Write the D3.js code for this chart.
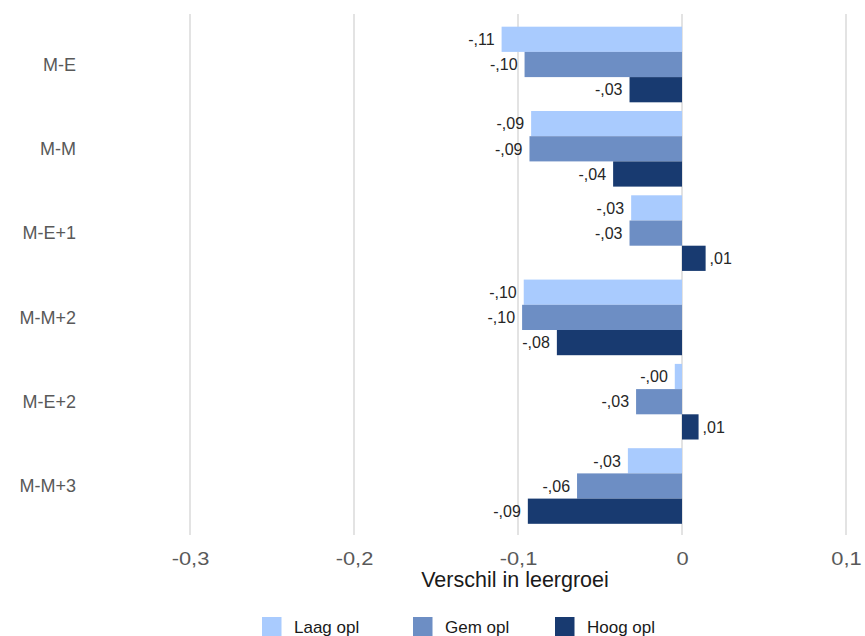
<!DOCTYPE html>
<html>
<head>
<meta charset="utf-8">
<script src="https://cdn.jsdelivr.net/npm/d3@7"></script>
<style>
  html, body { margin: 0; padding: 0; background: #fff; }
  svg { display: block; font-family: "Liberation Sans", Arial, sans-serif; }
</style>
</head>
<body>
<svg id="chart" width="865" height="636"></svg>
<script>
const categories = ["M-E", "M-M", "M-E+1", "M-M+2", "M-E+2", "M-M+3"];
const seriesNames = ["Laag opl", "Gem opl", "Hoog opl"];
const laagValues = [-0.110, -0.092, -0.031, -0.0965, -0.0044, -0.033];
const gemValues  = [-0.096, -0.093, -0.032, -0.0975, -0.028, -0.064];
const hoogValues = [-0.032, -0.042, 0.0144, -0.0763, 0.0101, -0.094];
const xTicks = [-0.3, -0.2, -0.1, 0, 0.1];
const xTickLabels = ["-0,3", "-0,2", "-0,1", "0", "0,1"];
const colors = ["#A9CBFE", "#6D8EC4", "#183A70"];
const axisTitle = "Verschil in leergroei";

const seriesValues = [laagValues, gemValues, hoogValues];
const rows = [];
categories.forEach((c, i) => {
  seriesNames.forEach((s, j) => rows.push({ cat: c, series: s, value: seriesValues[j][i], idx: j }));
});

const svg = d3.select("#chart");

const x = d3.scaleLinear().domain([-0.3, 0.1]).range([190, 846]);
const y = d3.scaleBand().domain(categories).range([22.35, 528.15]).paddingInner(0.103).paddingOuter(0.0515);
const ySub = d3.scaleBand().domain(seriesNames).range([0, y.bandwidth()]);

// gridlines
svg.append("g").selectAll("line").data(xTicks).join("line")
  .attr("x1", d => x(d)).attr("x2", d => x(d))
  .attr("y1", 14).attr("y2", 535)
  .attr("stroke", "#E3E3E3").attr("stroke-width", 2);

// x axis
const xAxis = d3.axisBottom(x).tickValues(xTicks)
  .tickFormat((d, i) => xTickLabels[i]).tickSize(0).tickPadding(0);
const gx = svg.append("g").attr("transform", "translate(0,565)").call(xAxis);
gx.select(".domain").remove();
gx.selectAll("text")
  .attr("y", 0).attr("dy", 0)
  .attr("transform", "scale(1.25,1)")
  .attr("font-size", 17.5)
  .attr("font-family", "'Liberation Sans', Arial, sans-serif")
  .attr("fill", "#595959");

// y axis labels
const yAxis = d3.axisLeft(y).tickSize(0).tickPadding(0);
const gy = svg.append("g").attr("transform", "translate(76,0)").call(yAxis);
gy.select(".domain").remove();
gy.selectAll("text")
  .attr("x", 0).attr("dy", "0.35em")
  .attr("font-size", 18)
  .attr("font-family", "'Liberation Sans', Arial, sans-serif")
  .attr("fill", "#595959");

// bars
svg.append("g").selectAll("rect").data(rows).join("rect")
  .attr("x", d => Math.min(x(0), x(d.value)))
  .attr("width", d => Math.abs(x(d.value) - x(0)))
  .attr("y", d => y(d.cat) + ySub(d.series))
  .attr("height", ySub.bandwidth())
  .attr("fill", d => colors[d.idx]);

// value labels
function fmt(v) {
  const s = Math.abs(v).toFixed(2).replace(/^0/, "").replace(".", ",");
  return (v < 0 ? "-" : "") + s;
}
svg.append("g").selectAll("text").data(rows).join("text")
  .attr("x", d => d.value < 0 ? x(d.value) - 7 : x(d.value) + 4)
  .attr("y", d => y(d.cat) + ySub(d.series) + ySub.bandwidth() / 2)
  .attr("dy", "0.36em")
  .attr("text-anchor", d => d.value < 0 ? "end" : "start")
  .attr("font-size", 16)
  .attr("fill", "#262626")
  .text(d => fmt(d.value));

// axis title
svg.append("text")
  .attr("x", (x.range()[0] + x.range()[1]) / 2 - 3)
  .attr("y", 587)
  .attr("text-anchor", "middle")
  .attr("font-size", 21.5)
  .attr("fill", "#1a1a1a")
  .text(axisTitle);

// legend
const legendX = [262, 413, 555];
const lg = svg.append("g").selectAll("g").data(seriesNames).join("g")
  .attr("transform", (d, i) => `translate(${legendX[i]},617)`);
lg.append("rect").attr("width", 19.5).attr("height", 20)
  .attr("fill", (d, i) => colors[i]);
lg.append("text").attr("x", 32).attr("y", 16)
  .attr("font-size", 17).attr("fill", "#1a1a1a")
  .text(d => d);
</script>
</body>
</html>
